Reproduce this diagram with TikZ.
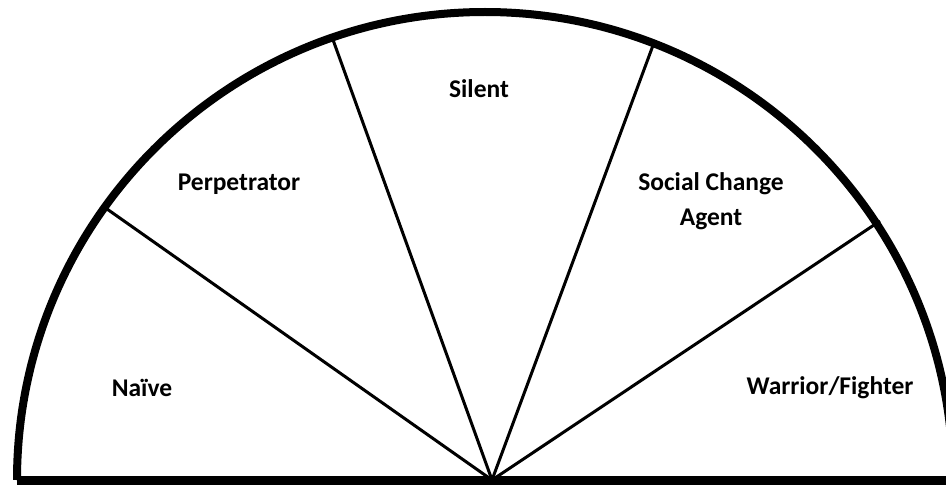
\documentclass[tikz,border=0pt]{standalone}
\usepackage{fontspec}
\setmainfont{Carlito}
\begin{document}
\begin{tikzpicture}[x=1pt,y=-1pt,
  rim/.style={line width=8pt},
  spoke/.style={line width=3pt},
  lbl/.style={font=\bfseries\fontsize{25.5}{35}\selectfont, align=center, inner sep=0pt}]
\useasboundingbox (0,0) rectangle (946,487);
\clip (0,0) rectangle (946,487);
\coordinate (C) at (485,480);
\coordinate (O) at (492,480);
\coordinate (L) at (17,480);
\coordinate (R) at (960,480);
\coordinate (A) at (107,209);
\coordinate (B) at (332,37);
\coordinate (Cc) at (655,40);
\coordinate (D) at (880,221);
\draw[rim] (L) arc[start angle=180, end angle=360, radius=468];
\draw[line width=9pt] (L) -- (R);
\draw[spoke] (O) -- (A);
\draw[spoke] (O) -- (B);
\draw[spoke] (O) -- (Cc);
\draw[spoke] (O) -- (D);
\node[lbl] (naive) at (142,388) {Naïve};
\node[lbl] (perp) at (239,184) {Perpetrator};
\node[lbl] (silent) at (479,89) {Silent};
\node[lbl] (social) at (711,201) {Social Change\\Agent};
\node[lbl] (warrior) at (830,388) {Warrior/Fighter};
\end{tikzpicture}
\end{document}
